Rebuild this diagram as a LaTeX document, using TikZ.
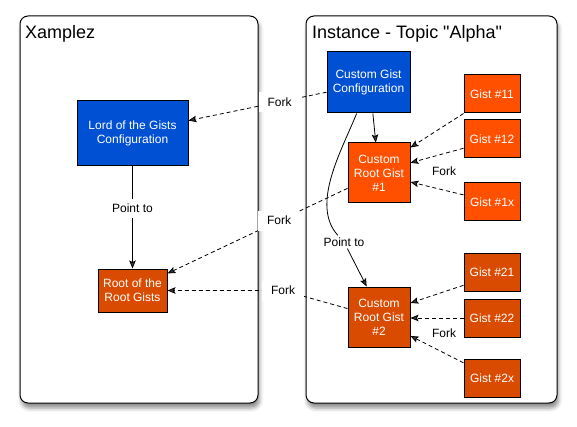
\documentclass[tikz,border=0pt]{standalone}
\usepackage{fontspec}
\setmainfont{Liberation Sans}[Ligatures=TeXOff]
\usetikzlibrary{arrows.meta,shadows.blur}
\definecolor{cblue}{HTML}{0050D4}
\definecolor{corange}{HTML}{FF5000}
\definecolor{cdark}{HTML}{D94B00}
\tikzset{
  container/.style={draw=black, line width=1pt, fill=white, rounded corners=8pt,
    blur shadow={shadow xshift=1.5pt, shadow yshift=-5pt, shadow blur radius=4pt, shadow opacity=45}},
  box/.style={draw=black, line width=1pt, text=white, align=center, inner sep=0pt,
    font=\fontsize{12pt}{14pt}\selectfont},
  bluebox/.style={box, fill=cblue},
  orbox/.style={box, fill=corange},
  dkbox/.style={box, fill=cdark},
  lbl/.style={font=\fontsize{12pt}{14pt}\selectfont, text=black},
  forklbl/.style={lbl, fill=white, minimum width=42pt, minimum height=20pt, inner sep=2pt},
  tip/.style={-{Stealth[length=8pt,width=6.5pt,inset=1.5pt]}},
  dline/.style={tip, line width=0.8pt, dash pattern=on 4pt off 3pt},
  sline/.style={tip, line width=0.8pt},
  title/.style={font=\fontsize{18pt}{20pt}\selectfont, anchor=base west, inner sep=0pt}
}
\begin{document}
\begin{tikzpicture}[x=1pt,y=-1pt]
\useasboundingbox (0,0) rectangle (577,427);
% containers
\draw[container] (20,16) rectangle (258,403);
\draw[container] (306,16) rectangle (557,403);
\node[title] (t1) at (25,39) {Xamplez};
\node[title] (t2) at (312,39) {Instance - Topic "Alpha"};
% nodes
\node[bluebox, minimum width=111pt, minimum height=65pt] (lord) at (132.5,133.5) {Lord of the Gists\\Configuration};
\node[dkbox, minimum width=69pt, minimum height=43pt] (rr) at (132.5,290.5) {Root of the\\Root Gists};
\node[bluebox, minimum width=83pt, minimum height=61pt] (cgc) at (368.5,82.5) {Custom Gist\\Configuration};
\node[orbox, minimum width=62pt, minimum height=60pt] (crg1) at (379,173) {Custom\\Root Gist\\\#1};
\node[dkbox, minimum width=62pt, minimum height=60pt] (crg2) at (379,317) {Custom\\Root Gist\\\#2};
\node[orbox, minimum width=56pt, minimum height=38pt] (g11) at (492,94) {Gist \#11};
\node[orbox, minimum width=56pt, minimum height=38pt] (g12) at (492,139) {Gist \#12};
\node[orbox, minimum width=56pt, minimum height=38pt] (g1x) at (492,202) {Gist \#1x};
\node[dkbox, minimum width=56pt, minimum height=38pt] (g21) at (492,272) {Gist \#21};
\node[dkbox, minimum width=56pt, minimum height=38pt] (g22) at (492,318) {Gist \#22};
\node[dkbox, minimum width=56pt, minimum height=38pt] (g2x) at (492,378) {Gist \#2x};
% left point to
\draw[sline] (lord) -- node[lbl, pos=0.41, fill=white, inner sep=5pt] (pt1) {Point to} (rr);
% forks to left
\draw[dline] (cgc.193) -- node[forklbl, pos=0.34] (f1) {Fork} (lord.13);
\draw[dline] (crg1.206) -- node[forklbl, pos=0.38] (f2) {Fork} (rr.26);
\coordinate (bend3) at (283,290.5);
\draw[dline] (crg2.165) -- (bend3) node[forklbl] (f3) {Fork} -- (rr.east);
% right side
\draw[sline] (cgc.-82) -- (crg1.96);
\node[lbl, inner sep=2pt] (pt2) at (344,242) {Point to};
\draw[line width=0.8pt] (cgc.249) .. controls (342,150) and (310,205) .. (pt2);
\draw[sline] (pt2) -- (crg2.112);
% gists to crg1
\draw[dline] (g11.south west) -- (crg1.39);
\draw[dline] (g12.198) -- (crg1.18);
\draw[dline] (g1x.166) -- (crg1.-16);
\node[lbl] (fk1) at (444,171) {Fork};
% gists to crg2
\draw[dline] (g21.205) -- (crg2.24);
\draw[dline] (g22.west) -- (crg2.east |- g22.west);
\draw[dline] (g2x.152) -- (crg2.-31);
\node[lbl] (fk2) at (444,333) {Fork};
\end{tikzpicture}
\end{document}
